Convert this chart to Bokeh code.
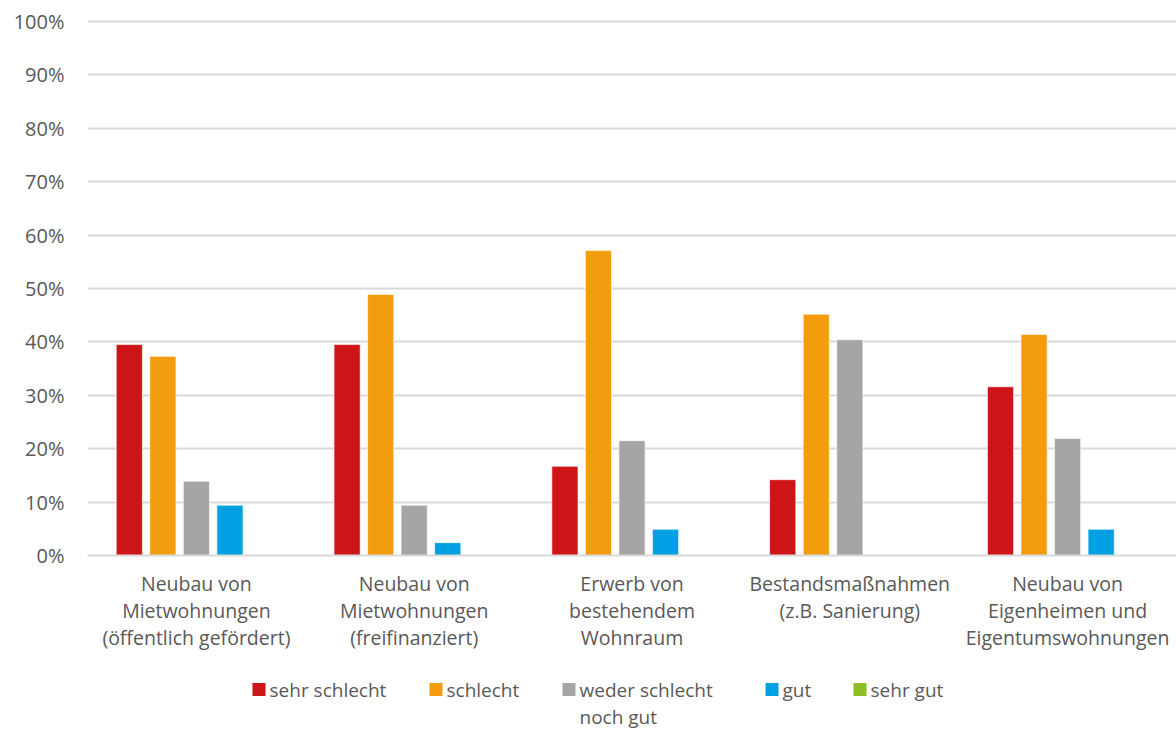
from bokeh.plotting import figure
from bokeh.layouts import column
from bokeh.models import (ColumnDataSource, FactorRange, Range1d,
                          PrintfTickFormatter, FixedTicker)
from bokeh.transform import dodge
from bokeh.embed import file_html
from bokeh.resources import INLINE

categories = [
    "Neubau von\nMietwohnungen\n(öffentlich gefördert)",
    "Neubau von\nMietwohnungen\n(freifinanziert)",
    "Erwerb von\nbestehendem\nWohnraum",
    "Bestandsmaßnahmen\n(z.B. Sanierung)",
    "Neubau von\nEigenheimen und\nEigentumswohnungen",
]
series_names = ["sehr schlecht", "schlecht", "weder schlecht\nnoch gut", "gut", "sehr gut"]
sehr_schlecht = [39.5, 39.5, 16.7, 14.2, 31.6]
schlecht = [37.3, 48.9, 57.1, 45.2, 41.4]
weder = [13.9, 9.4, 21.5, 40.4, 21.9]
gut = [9.4, 2.4, 4.9, 0.0, 4.9]
sehr_gut = [0.0, 0.0, 0.0, 0.0, 0.0]
colors = ["#cd1419", "#f39c0e", "#a5a5a5", "#00a0e3", "#8dbd24"]
y_ticks = [0, 10, 20, 30, 40, 50, 60, 70, 80, 90, 100]

FONT = "Open Sans"
TXT = "#595959"

src = ColumnDataSource(dict(cat=categories, s0=sehr_schlecht, s1=schlecht, s2=weder, s3=gut, s4=sehr_gut))

p = figure(width=1176, height=654, x_range=FactorRange(*categories),
           y_range=Range1d(0, 100.94), output_backend="svg", toolbar_location=None,
           min_border_left=87, min_border_right=0, min_border_top=16, min_border_bottom=99)
p.outline_line_color = None
p.background_fill_color = "white"

step = 0.154
for i, key in enumerate(["s0", "s1", "s2", "s3", "s4"]):
    p.vbar(x=dodge("cat", (i - 2) * step, range=p.x_range), top=key, width=0.12,
           source=src, fill_color=colors[i], line_color="white", line_width=0.6)

p.ygrid.grid_line_color = "#d9d9d9"
p.ygrid.grid_line_width = 2
p.xgrid.grid_line_color = None

p.yaxis.ticker = FixedTicker(ticks=y_ticks)
p.yaxis.formatter = PrintfTickFormatter(format="%d%%")
p.yaxis.axis_line_color = None
p.yaxis.major_tick_line_color = None
p.yaxis.minor_tick_line_color = None
p.yaxis.major_label_text_font = FONT
p.yaxis.major_label_text_font_size = "20px"
p.yaxis.major_label_text_color = TXT
p.yaxis.major_label_standoff = 17

p.xaxis.axis_line_color = "#d9d9d9"
p.xaxis.axis_line_width = 2
p.xaxis.major_tick_line_color = None
p.xaxis.minor_tick_line_color = None
p.xaxis.major_label_text_font = FONT
p.xaxis.major_label_text_font_size = "19.5px"
p.xaxis.major_label_text_color = TXT
p.xaxis.major_label_standoff = 8
p.xaxis.major_label_text_line_height = 1.0

# legend strip (coordinates equal to canvas pixels; its frame is aligned with the main frame)
lp = figure(width=1176, height=75, x_range=Range1d(87, 1176), y_range=Range1d(0, 75),
            output_backend="svg", toolbar_location=None, min_border=0,
            min_border_left=87, x_axis_location=None, y_axis_location=None)
lp.outline_line_color = None
lp.grid.visible = False
legend_x = [252, 429, 562, 765, 853]
row1, row2 = 40, 13
sq_x, sq_y, sq_c, t_x, t_y, t_s = [], [], [], [], [], []
for i, name in enumerate(series_names):
    sq_x.append(legend_x[i] + 6.5)
    sq_y.append(row1)
    sq_c.append(colors[i])
    for j, line in enumerate(name.split("\n")):
        t_x.append(legend_x[i] + 17)
        t_y.append(row1 if j == 0 else row2)
        t_s.append(line)
lp.scatter(x=sq_x, y=sq_y, marker="square", size=13, fill_color=sq_c, line_color=None)
lp.text(x=t_x, y=t_y, text=t_s, text_baseline="middle", text_align="left",
        text_font={"value": FONT}, text_font_size="19px", text_color=TXT)

open("out.html", "w").write(file_html(column(p, lp, spacing=0), INLINE))
